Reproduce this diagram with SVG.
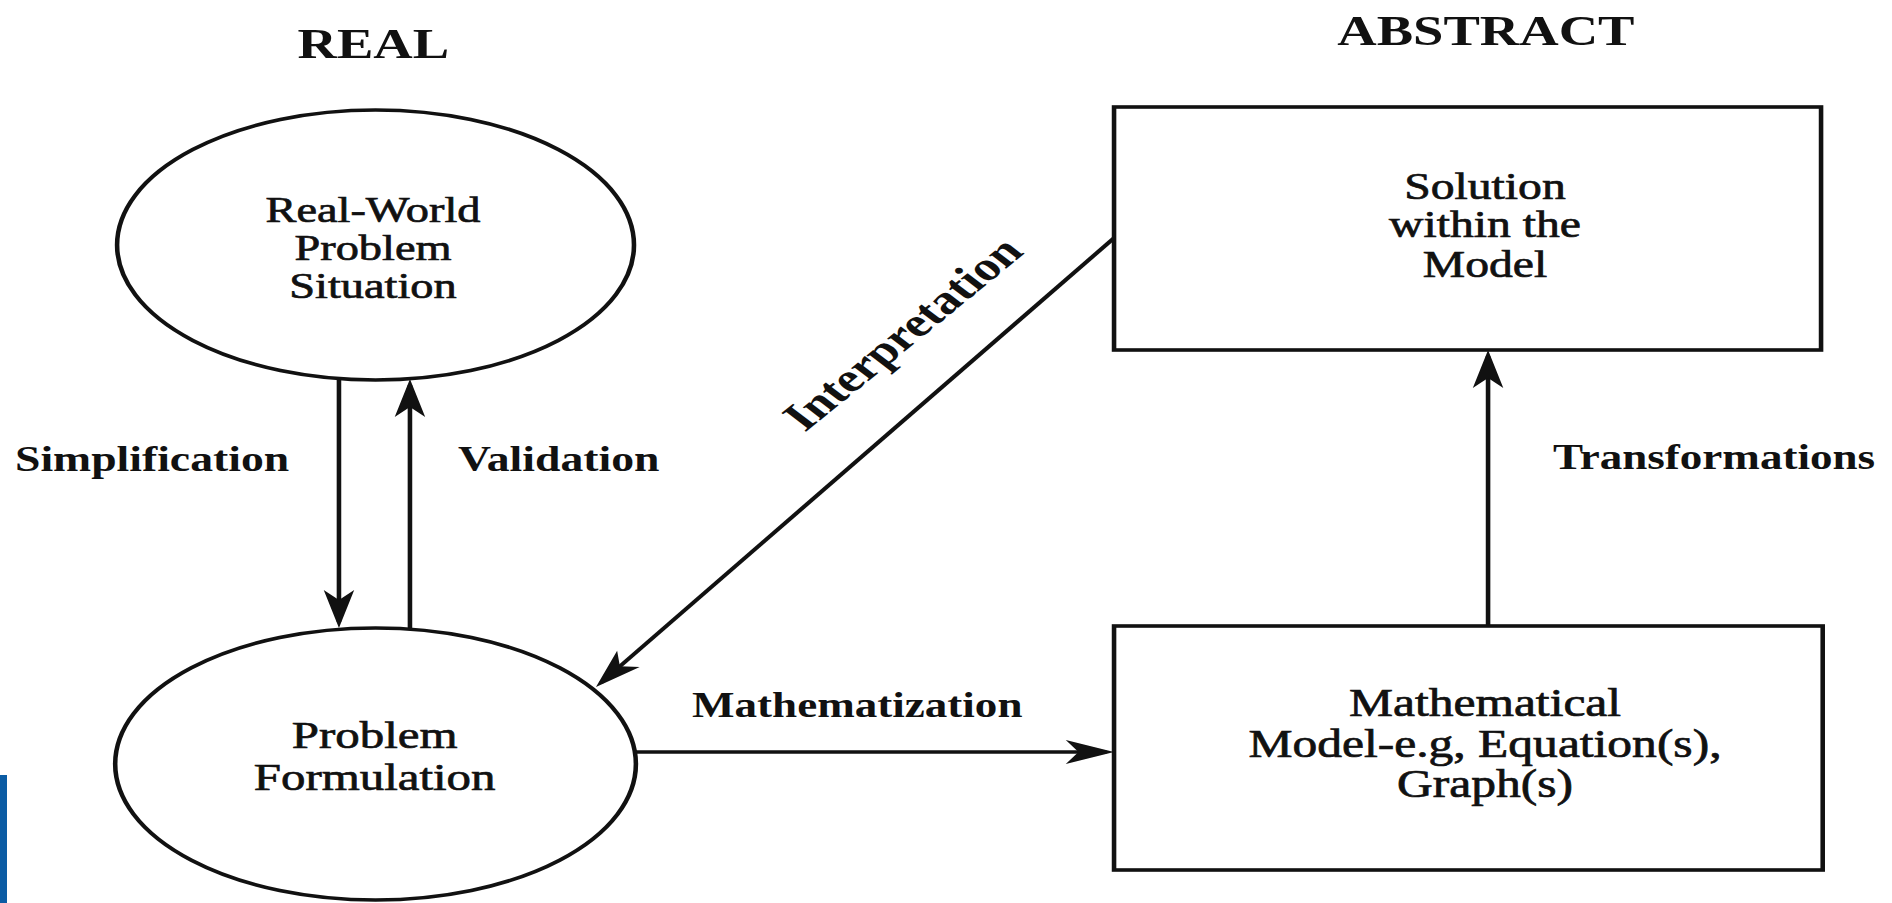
<svg xmlns="http://www.w3.org/2000/svg" width="1892" height="903" viewBox="0 0 1892 903">
<defs>
<style>
.shape{fill:#fff;stroke:#111;stroke-width:3.6}
.c line{fill:none;stroke:#111;stroke-width:3.6}
.t{font-family:"Liberation Serif","Times New Roman",serif;fill:#111;text-anchor:middle}
.n{stroke:#111;stroke-width:0.7}
.l{font-family:"Liberation Serif","Times New Roman",serif;fill:#111;font-weight:bold}
.b{font-weight:bold}
</style>
<marker id="ah" viewBox="-40 -14 48 28" refX="0" refY="0" markerWidth="48" markerHeight="28" markerUnits="userSpaceOnUse" orient="auto" overflow="visible">
<path d="M6,0 L-32,-12 L-22,0 L-32,12 Z" fill="#111"/>
</marker>
</defs>
<rect width="1892" height="903" fill="#fff"/>
<rect id="sidebar" x="0" y="775" width="7" height="128" fill="#0b5ca4"/>
<g transform="scale(1.27,1)">
<text class="t b" x="294" y="58" font-size="43">REAL</text>
<text class="t b" x="1170" y="45" font-size="43">ABSTRACT</text>
<g id="connectors" class="c">
<line x1="266.9" y1="379" x2="266.9" y2="622" marker-end="url(#ah)"/>
<line x1="322.8" y1="629" x2="322.8" y2="385" marker-end="url(#ah)"/>
<line x1="877.2" y1="238" x2="473.3" y2="682.6" marker-end="url(#ah)"/>
<line x1="500.8" y1="752" x2="871.2" y2="752" marker-end="url(#ah)"/>
<line x1="1171.7" y1="626" x2="1171.7" y2="356" marker-end="url(#ah)"/>
</g>
<g id="real-world">
<ellipse class="shape" cx="295.7" cy="245" rx="203.5" ry="135"/>
<text class="t n" font-size="36.5"><tspan x="293.7" y="222">Real-World</tspan><tspan x="293.7" y="260">Problem</tspan><tspan x="293.7" y="298">Situation</tspan></text>
</g>
<g id="problem-formulation">
<ellipse class="shape" cx="295.7" cy="764" rx="205" ry="136"/>
<text class="t n" font-size="38.5"><tspan x="295" y="748">Problem</tspan><tspan x="295" y="790">Formulation</tspan></text>
</g>
<g id="solution">
<rect class="shape" x="877.2" y="107" width="556.7" height="243"/>
<text class="t n" font-size="37.5"><tspan x="1169.3" y="199">Solution</tspan><tspan x="1169.3" y="237">within the</tspan><tspan x="1169.3" y="277">Model</tspan></text>
</g>
<g id="math-model">
<rect class="shape" x="877.2" y="626" width="558" height="244"/>
<text class="t n" font-size="39"><tspan x="1169.3" y="716">Mathematical</tspan><tspan x="1169.3" y="757">Model-e.g, Equation(s),</tspan><tspan x="1169.3" y="797">Graph(s)</tspan></text>
</g>
<g id="labels">
<text class="l" x="11.8" y="471" font-size="36">Simplification</text>
<text class="l" x="360.6" y="471" font-size="36">Validation</text>
<text class="l" x="544.9" y="717" font-size="35.5">Mathematization</text>
<text class="l" x="1222.8" y="469" font-size="35.5">Transformations</text>
<text class="l" text-anchor="middle" transform="translate(720.5,343) rotate(-46)" font-size="41">Interpretation</text>
</g>
</g>
</svg>
